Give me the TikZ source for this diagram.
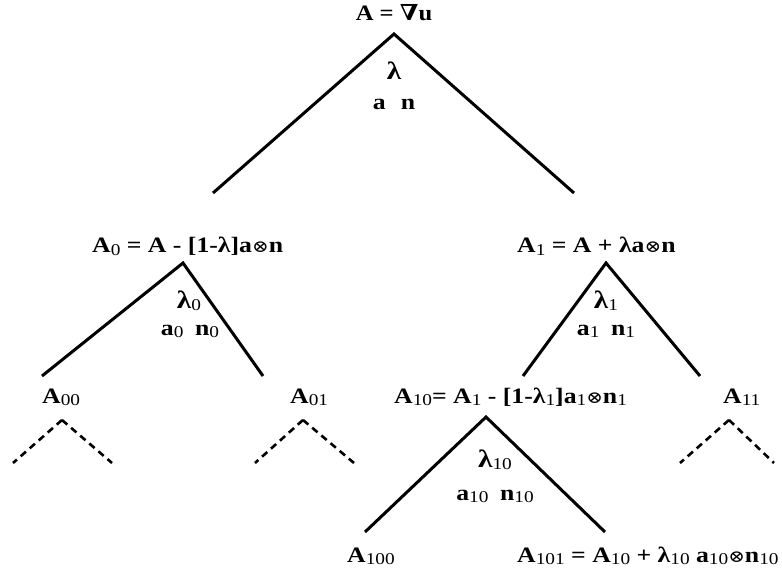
\documentclass[tikz,border=0pt]{standalone}
\usepackage{fontspec}
\setmainfont{Liberation Serif}
\newfontfamily\symfnt{DejaVu Serif}
\newcommand{\lsub}[1]{\raisebox{-0.25ex}{\fontsize{16.5}{16.5}\selectfont\mdseries #1}}
\newcommand{\tensor}{{\symfnt\mdseries\fontsize{17}{17}\selectfont ⊗}}
\newcommand{\nablasym}{{\symfnt\bfseries ∇}}
\newcommand{\wide}[1]{\scalebox{1.17}[1]{#1}}
\newcommand{\biglam}{{\fontsize{25}{25}\selectfont λ}}
\begin{document}
\begin{tikzpicture}[x=1pt,y=-1pt,
  lab/.style={font=\fontsize{22}{26}\selectfont\bfseries, inner sep=0pt},
  branch/.style={line width=3pt},
  stub/.style={line width=2.6pt, dash pattern=on 7pt off 5pt}]
\useasboundingbox (0,0) rectangle (782,572);
% labels
\node[lab, anchor=base] (top) at (394,21) {\scalebox{1.12}[1]{A = \nablasym u}};
\node[lab, anchor=base] (l) at (394,80) {\wide{\biglam}};
\node[lab, anchor=base] (an) at (394,110) {\wide{a\hspace{13pt}n}};
\node[lab, anchor=base west] (A0) at (92,253) {\wide{A\lsub{0} = A - [1-λ]a\tensor n}};
\node[lab, anchor=base west] (A1) at (517,253) {\wide{A\lsub{1} = A + λa\tensor n}};
\node[lab, anchor=base] (l0) at (189,308) {\wide{\biglam\lsub{0}}};
\node[lab, anchor=base] (an0) at (190,335) {\wide{a\lsub{0}\hspace{10pt}n\lsub{0}}};
\node[lab, anchor=base] (l1) at (606,308) {\wide{\biglam\lsub{1}}};
\node[lab, anchor=base] (an1) at (606,335) {\wide{a\lsub{1}\hspace{10pt}n\lsub{1}}};
\node[lab, anchor=base west] (A00) at (42,403) {\wide{A\lsub{00}}};
\node[lab, anchor=base west] (A01) at (290,403) {\wide{A\lsub{01}}};
\node[lab, anchor=base west] (A10) at (394,403) {\wide{A\lsub{10}= A\lsub{1} - [1-λ\lsub{1}]a\lsub{1}\tensor n\lsub{1}}};
\node[lab, anchor=base west] (A11) at (723,403) {\wide{A\lsub{11}}};
\node[lab, anchor=base] (l10) at (495,467) {\wide{\biglam\lsub{10}}};
\node[lab, anchor=base] (an10) at (495,500) {\wide{a\lsub{10}\hspace{10pt}n\lsub{10}}};
\node[lab, anchor=base west] (A100) at (347,562) {\wide{A\lsub{100}}};
\node[lab, anchor=base west] (A101) at (517,562) {\wide{A\lsub{101} = A\lsub{10} + λ\lsub{10} a\lsub{10}\tensor n\lsub{10}}};
% branch points
\coordinate (p) at (394,34);
\coordinate (pL) at (213,193);
\coordinate (pR) at (574,193);
\coordinate (p0) at (183,263);
\coordinate (p0L) at (42,376);
\coordinate (p0R) at (263,376);
\coordinate (p1) at (606,263);
\coordinate (p1L) at (523,376);
\coordinate (p1R) at (700,376);
\coordinate (p10) at (486,417);
\coordinate (p10L) at (365,532);
\coordinate (p10R) at (605,532);
\coordinate (q00) at (62,420);
\coordinate (q00L) at (13,463);
\coordinate (q00R) at (112,463);
\coordinate (q01) at (303,420);
\coordinate (q01L) at (255,463);
\coordinate (q01R) at (354,463);
\coordinate (q11) at (729,420);
\coordinate (q11L) at (680,463);
\coordinate (q11R) at (774,463);
% branches
\draw[branch] (pL) -- (p) -- (pR);
\draw[branch] (p0L) -- (p0) -- (p0R);
\draw[branch] (p1L) -- (p1) -- (p1R);
\draw[branch] (p10L) -- (p10) -- (p10R);
\draw[stub] (q00) -- (q00L); \draw[stub] (q00) -- (q00R);
\draw[stub] (q01) -- (q01L); \draw[stub] (q01) -- (q01R);
\draw[stub] (q11) -- (q11L); \draw[stub] (q11) -- (q11R);
\end{tikzpicture}
\end{document}
